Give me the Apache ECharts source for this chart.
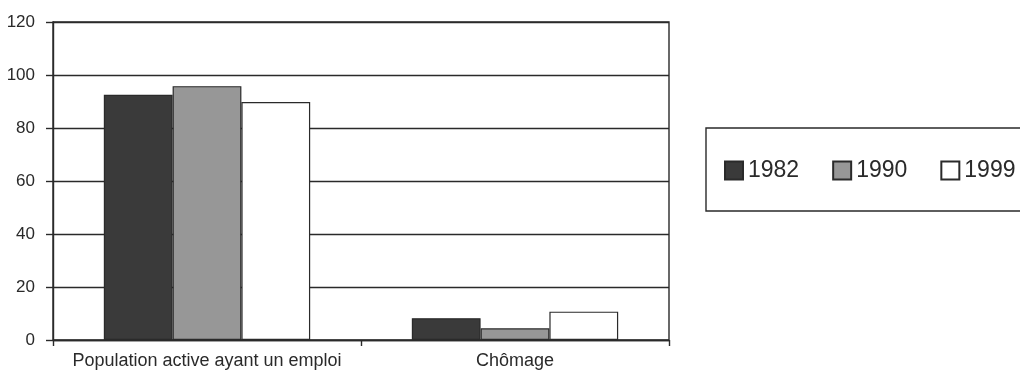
<!DOCTYPE html>
<html>
<head>
<meta charset="utf-8">
<script src="https://cdn.jsdelivr.net/npm/echarts@6/dist/echarts.min.js"></script>
<style>
  html, body { margin: 0; padding: 0; background: #fff; }
  #chart { width: 1020px; height: 373px; }
</style>
</head>
<body>
<div id="chart"></div>
<script>
// Population active (indices) by year
const categories = ['Population active ayant un emploi', 'Chômage'];
const years = ['1982', '1990', '1999'];
const values1982 = [92.5, 8.2];
const values1990 = [95.8, 4.4];
const values1999 = [89.8, 10.7];
const yTicks = { min: 0, max: 120, interval: 20 };

const FONT = '"Liberation Sans", Arial, sans-serif';
const INK = '#2a2a2a';
const fills = ['#3a3a3a', '#979797', '#ffffff'];
const seriesValues = [values1982, values1990, values1999];

const chart = echarts.init(document.getElementById('chart'), null, { renderer: 'canvas' });

chart.setOption({
  animation: false,
  backgroundColor: '#fff',
  grid: {
    left: 53, right: 351, top: 22, bottom: 33,
    show: true, borderColor: INK, borderWidth: 1.4, backgroundColor: 'transparent'
  },
  legend: {
    data: years,
    orient: 'horizontal',
    left: 719, top: 154, width: 300,
    icon: 'rect',
    itemWidth: 18, itemHeight: 18, itemGap: 33,
    textStyle: { fontFamily: FONT, fontSize: 23, color: INK }
  },
  graphic: [{
    type: 'rect',
    shape: { x: 706, y: 128, width: 330, height: 83 },
    style: { fill: 'none', stroke: INK, lineWidth: 1.4 },
    silent: true, z: -1
  }],
  xAxis: {
    type: 'category',
    data: categories,
    axisLine: { lineStyle: { color: INK, width: 1.4 } },
    axisTick: { show: true, length: 6, lineStyle: { color: INK, width: 1.4 } },
    axisLabel: { interval: 0, fontFamily: FONT, fontSize: 18, color: INK, margin: 12 }
  },
  yAxis: {
    type: 'value',
    min: yTicks.min, max: yTicks.max, interval: yTicks.interval,
    axisLine: { show: true, lineStyle: { color: INK, width: 1.4 } },
    axisTick: { show: true, length: 7, lineStyle: { color: INK, width: 1.4 } },
    axisLabel: { fontFamily: FONT, fontSize: 17, color: INK, margin: 18 },
    splitLine: { show: true, lineStyle: { color: INK, width: 1.4 } }
  },
  series: years.map((y, i) => ({
    name: y,
    type: 'bar',
    data: seriesValues[i],
    barGap: '0%',
    barCategoryGap: '33%',
    itemStyle: { color: fills[i], borderColor: INK, borderWidth: 1.2 }
  }))
});
</script>
</body>
</html>
